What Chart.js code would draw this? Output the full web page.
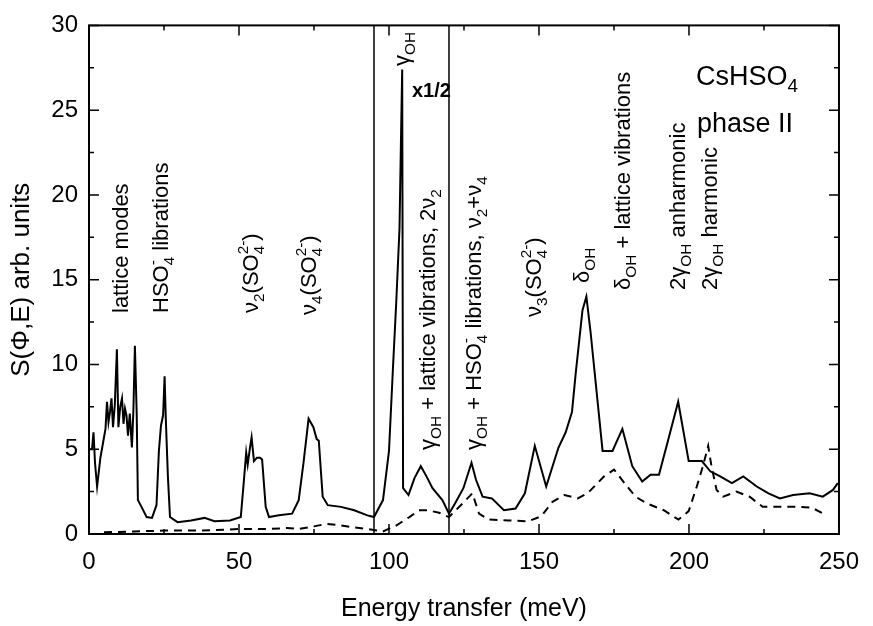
<!DOCTYPE html>
<html>
<head>
<meta charset="utf-8">
<script src="https://cdn.jsdelivr.net/npm/chart.js@4.4.1/dist/chart.umd.min.js"></script>
<style>
  body { margin: 0; background: #fff; }
  canvas { display: block; }
</style>
</head>
<body>
<canvas id="spectrum" width="873" height="626"></canvas>
<script>
// INS spectrum of CsHSO4, phase II

const FONT = '"Liberation Sans", Arial, sans-serif';

// measured spectrum (solid line)
const measuredE = [
  0.0, 1.0, 1.5, 2.0, 2.7, 3.8, 4.8, 5.5, 6.0, 6.5, 7.0, 7.5, 8.0, 8.6, 9.3, 9.8, 10.4,
  11.0, 11.5, 12.0, 12.5, 13.0, 13.6, 14.3, 14.8, 15.3, 15.9, 16.3, 17.5, 19.2, 21.0,
  22.5, 23.3, 24.0, 24.7, 25.2, 25.6, 26.3, 27.0, 29.5, 34.0, 38.5, 41.8, 47.0, 50.6,
  51.7, 52.4, 52.9, 53.6, 54.2, 55.0, 56.0, 57.0, 57.7, 58.9, 60.0, 63.3, 67.7, 69.9,
  71.5, 73.2, 74.8, 75.9, 76.6, 77.9, 79.6, 84.0, 88.4, 92.8, 95.0, 98.0, 100.0, 101.3,
  102.4, 103.5, 104.0, 104.4, 104.7, 106.5, 108.5, 110.6, 112.5, 114.5, 117.8, 120.0,
  122.0, 124.8, 127.5, 129.0, 131.2, 134.3, 138.3, 142.2, 145.3, 148.6, 152.4, 156.5,
  158.9, 161.0, 162.2, 164.5, 165.8, 167.2, 171.2, 174.5, 177.8, 181.1, 184.4, 187.2,
  190.0, 193.3, 196.4, 199.9, 204.3, 207.1, 210.4, 214.3, 218.1, 222.6, 226.5, 230.3,
  234.7, 240.2, 244.6, 248.0, 249.6
];
const measuredS = [
  5.0, 5.0, 6.0, 4.2, 2.8, 4.5, 5.5, 6.2, 7.8, 6.6, 7.2, 8.0, 6.3, 7.6, 10.9, 6.3, 7.5,
  8.0, 6.5, 7.4, 7.0, 5.8, 7.1, 5.1, 7.3, 11.1, 7.1, 2.0, 1.6, 1.0, 0.95,
  1.7, 4.9, 6.4, 7.0, 9.3, 6.8, 3.4, 1.0, 0.7, 0.8, 0.95, 0.75, 0.8, 1.0,
  3.3, 4.8, 4.1, 5.0, 5.7, 4.3, 4.5, 4.5, 4.4, 1.6, 1.0, 1.1, 1.2, 2.0,
  4.2, 6.8, 6.3, 5.6, 5.5, 2.2, 1.7, 1.6, 1.4, 1.1, 1.0, 2.0, 4.9, 9.7,
  13.6, 18.0, 23.3, 27.4, 2.7, 2.3, 3.3, 4.0, 3.4, 2.7, 2.0, 1.2,
  1.8, 2.7, 4.2, 3.2, 2.2, 2.1, 1.4, 1.5, 2.4, 5.2, 2.8, 5.1,
  6.0, 7.2, 9.4, 13.2, 14.0, 11.9, 4.9, 4.9, 6.2, 4.0, 3.1, 3.5,
  3.5, 5.7, 7.8, 4.3, 4.3, 3.7, 3.4, 3.0, 3.4, 2.8, 2.4, 2.1,
  2.3, 2.4, 2.2, 2.6, 3.0
];

// calculated spectrum (dashed line)
const calcE = [
  5, 15, 25, 35, 45, 50.7, 60, 66, 70, 75, 79.3, 84, 92.4, 98, 102.4, 106.8, 110, 113,
  116.7, 120, 124.5, 127.8, 130, 133.3, 139.9, 146.4, 150.8, 154.5, 158.5, 162.9, 166.2,
  171.7, 175, 179.4, 182.2, 186, 191.6, 196.5, 199.9, 202.6, 204.8, 206.4, 207.5, 209.2,
  211.4, 215.8, 220.2, 224.6, 230.1, 236.7, 241, 244.3
];
const calcS = [
  0.1, 0.15, 0.2, 0.2, 0.25, 0.3, 0.3, 0.35, 0.3, 0.45, 0.6, 0.5, 0.3, 0.15, 0.5, 1.0, 1.4, 1.4,
  1.25, 1.0, 1.8, 2.4, 1.2, 0.85, 0.8, 0.75, 1.05, 1.9, 2.3, 2.1, 2.4,
  3.4, 3.8, 2.8, 2.2, 1.8, 1.4, 0.85, 1.35, 2.8, 4.1, 5.2, 4.0, 2.6,
  2.2, 2.5, 2.2, 1.6, 1.6, 1.6, 1.55, 1.25
];

// energies where the figure has vertical separator lines
const separators = [95, 120];

const toPoints = (xs, ys) => xs.map((x, i) => ({ x: x, y: ys[i] }));

// rich text: parts are [text, kind] with kind 0 normal, 1 subscript, 2 superscript,
// 3 superscript stacked over the previous subscript
function richText(ctx, parts, x, y, size, rotated, bold) {
  ctx.save();
  ctx.translate(x, y);
  if (rotated) ctx.rotate(-Math.PI / 2);
  ctx.fillStyle = '#000';
  ctx.textBaseline = 'alphabetic';
  ctx.textAlign = 'left';
  let cx = 0, lastStart = 0;
  for (const [t, k] of parts) {
    const s = k ? size * 0.7 : size;
    ctx.font = (bold ? 'bold ' : '') + s + 'px ' + FONT;
    const dy = k === 1 ? size * 0.25 : (k >= 2 ? -size * 0.45 : 0);
    const px = k === 3 ? lastStart : cx;
    ctx.fillText(t, px, dy);
    const w = ctx.measureText(t).width;
    if (k === 3) {
      cx = Math.max(cx, px + w);
    } else {
      lastStart = cx;
      cx += w;
    }
  }
  ctx.restore();
}

const notes = [
  { x: 128, y: 313, parts: [['lattice modes', 0]] },
  { x: 168, y: 313, parts: [['HSO', 0], ['4', 1], ['-', 3], [' librations', 0]] },
  { x: 258, y: 313, parts: [['ν', 0], ['2', 1], ['(SO', 0], ['4', 1], ['2-', 3], [')', 0]] },
  { x: 316, y: 315, parts: [['ν', 0], ['4', 1], ['(SO', 0], ['4', 1], ['2-', 3], [')', 0]] },
  { x: 409, y: 66, parts: [['γ', 0], ['OH', 1]] },
  { x: 435, y: 450, parts: [['γ', 0], ['OH', 1], [' + lattice vibrations, 2ν', 0], ['2', 1]] },
  { x: 481, y: 450, parts: [['γ', 0], ['OH', 1], [' + HSO', 0], ['4', 1], ['-', 3],
                            [' librations, ν', 0], ['2', 1], ['+ν', 0], ['4', 1]] },
  { x: 541, y: 317, parts: [['ν', 0], ['3', 1], ['(SO', 0], ['4', 1], ['2-', 3], [')', 0]] },
  { x: 589, y: 283, parts: [['δ', 0], ['OH', 1]] },
  { x: 630, y: 290, parts: [['δ', 0], ['OH', 1], [' + lattice vibrations', 0]] },
  { x: 685, y: 290, parts: [['2γ', 0], ['OH', 1], [' anharmonic', 0]] },
  { x: 717, y: 290, parts: [['2γ', 0], ['OH', 1], [' harmonic', 0]] }
];

const framePlugin = {
  id: 'frame',
  afterDatasetsDraw(chart) {
    const ctx = chart.ctx;
    const a = chart.chartArea;
    const xs = chart.scales.x, ys = chart.scales.y;
    ctx.save();
    ctx.strokeStyle = '#000';

    // separator lines
    ctx.lineWidth = 1.5;
    separators.forEach(e => {
      const px = xs.getPixelForValue(e);
      ctx.beginPath();
      ctx.moveTo(px, a.top);
      ctx.lineTo(px, a.bottom);
      ctx.stroke();
    });

    // box
    ctx.lineWidth = 2;
    ctx.strokeRect(a.left, a.top, a.right - a.left, a.bottom - a.top);

    // inward ticks on all four sides
    ctx.lineWidth = 1.5;
    ctx.beginPath();
    for (let v = 0; v <= 250; v += 25) {
      const px = xs.getPixelForValue(v);
      const len = v % 50 === 0 ? 10 : 5;
      ctx.moveTo(px, a.bottom); ctx.lineTo(px, a.bottom - len);
      ctx.moveTo(px, a.top); ctx.lineTo(px, a.top + len);
    }
    for (let v = 0; v <= 30; v += 2.5) {
      const py = ys.getPixelForValue(v);
      const len = v % 5 === 0 ? 10 : 5;
      ctx.moveTo(a.left, py); ctx.lineTo(a.left + len, py);
      ctx.moveTo(a.right, py); ctx.lineTo(a.right - len, py);
    }
    ctx.stroke();
    ctx.restore();

    // peak labels
    notes.forEach(n => richText(ctx, n.parts, n.x, n.y, 22, true, false));
    richText(ctx, [['x1/2', 0]], 412, 97, 20, false, true);
    richText(ctx, [['CsHSO', 0], ['4', 1]], 696, 85, 27, false, false);
    richText(ctx, [['phase II', 0]], 697, 132, 27, false, false);
  }
};

new Chart(document.getElementById('spectrum'), {
  type: 'line',
  data: {
    datasets: [
      {
        label: 'measured',
        data: toPoints(measuredE, measuredS),
        borderColor: '#000',
        borderWidth: 2,
        pointRadius: 0,
        tension: 0,
        fill: false
      },
      {
        label: 'calculated',
        data: toPoints(calcE, calcS),
        borderColor: '#000',
        borderWidth: 2,
        borderDash: [8, 6],
        pointRadius: 0,
        tension: 0,
        fill: false
      }
    ]
  },
  options: {
    responsive: false,
    animation: false,
    layout: { padding: { top: 19, right: 26, left: 0, bottom: 0 } },
    plugins: {
      legend: { display: false },
      tooltip: { enabled: false }
    },
    scales: {
      x: {
        type: 'linear',
        min: 0,
        max: 250,
        grid: { display: false, drawTicks: false },
        border: { display: false },
        ticks: { stepSize: 50, padding: 14, color: '#000', font: { family: FONT, size: 24 } },
        title: {
          display: true,
          text: 'Energy transfer (meV)',
          color: '#000',
          font: { family: FONT, size: 25 },
          padding: { top: 0, bottom: 2 }
        },
        afterFit(scale) { scale.height = 92; }
      },
      y: {
        type: 'linear',
        min: 0,
        max: 30,
        grid: { display: false, drawTicks: false },
        border: { display: false },
        ticks: { stepSize: 5, padding: 11, color: '#000', font: { family: FONT, size: 24 } },
        title: {
          display: true,
          text: 'S(Φ,E) arb. units',
          color: '#000',
          font: { family: FONT, size: 26 },
          padding: { top: 6, bottom: 0 }
        },
        afterFit(scale) { scale.width = 89; }
      }
    }
  },
  plugins: [framePlugin]
});
</script>
</body>
</html>
